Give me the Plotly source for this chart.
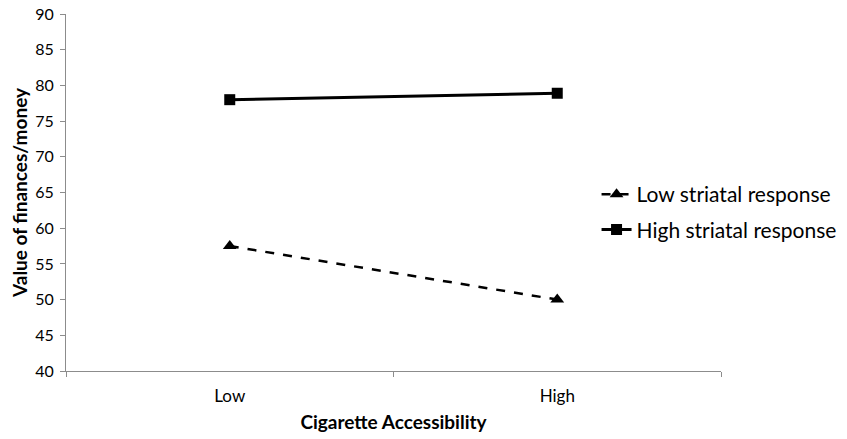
import plotly.graph_objects as go

categories = ["Low", "High"]
low_striatal = [57.5, 50.0]
high_striatal = [78.0, 78.9]
series_names = ["Low striatal response", "High striatal response"]
y_ticks = [40, 45, 50, 55, 60, 65, 70, 75, 80, 85, 90]

FONT = "Lato"

fig = go.Figure()
fig.add_trace(go.Scatter(
    x=categories, y=low_striatal, name=series_names[0], mode="lines+markers",
    legendgroup="low",
    line=dict(color="black", width=2.5, dash="dash"),
    marker=dict(symbol="triangle-up", size=12, color="black"),
))
fig.add_trace(go.Scatter(
    x=categories, y=high_striatal, name=series_names[1], mode="lines+markers",
    legendgroup="high",
    line=dict(color="black", width=3),
    marker=dict(symbol="square", size=11, color="black"),
))

fig.update_layout(
    width=847, height=439,
    margin=dict(l=66, r=126, t=14, b=68, autoexpand=False),
    paper_bgcolor="white", plot_bgcolor="white",
    font=dict(family=FONT, color="black", size=15),
    showlegend=True,
    legend=dict(x=0.81, xanchor="left", y=0.445, yanchor="middle",
                font=dict(size=21, family=FONT), itemwidth=30,
                tracegroupgap=5, bgcolor="rgba(0,0,0,0)"),
    xaxis=dict(
        type="category", range=[-0.5, 1.5], showgrid=False,
        showline=True, linecolor="#8c8c8c", linewidth=1,
        ticks="outside", tickson="boundaries", ticklen=5, tickcolor="#8c8c8c",
        tickfont=dict(size=17, family=FONT), ticklabelstandoff=10,
        title=dict(text="<b>Cigarette Accessibility</b>", font=dict(size=19, family=FONT), standoff=10),
    ),
    yaxis=dict(
        range=[40, 90], tickvals=y_ticks, showgrid=False, zeroline=False,
        showline=True, linecolor="#8c8c8c", linewidth=1,
        ticks="outside", ticklen=5, tickcolor="#8c8c8c",
        tickfont=dict(size=16, family=FONT), ticklabelstandoff=3,
        title=dict(text="<b>Value of finances/money</b>", font=dict(size=19, family=FONT), standoff=2),
    ),
)

fig.write_html(
    "out.html",
    config={"displayModeBar": False},
    post_script="document.body.style.margin='0';",
)
